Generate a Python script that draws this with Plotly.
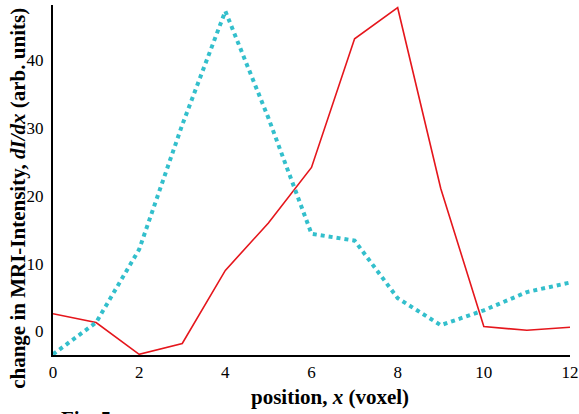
import plotly.graph_objects as go

positions = list(range(13))
red_values = [2.6, 1.3, -3.4, -1.8, 9.0, 16.0, 24.2, 43.2, 47.8, 21.1, 0.7, 0.15, 0.6]
cyan_values = [-3.4, 1.3, 12.1, 30.5, 47.3, 31.5, 14.4, 13.4, 4.9, 0.9, 3.1, 5.8, 7.2]
x_ticks = [0, 2, 4, 6, 8, 10, 12]
y_ticks = [0, 10, 20, 30, 40]

font_family = "Liberation Serif"

fig = go.Figure()
fig.add_trace(go.Scatter(x=positions, y=red_values, mode="lines",
                         line=dict(color="#E5161C", width=1.6), showlegend=False))
fig.add_trace(go.Scatter(x=positions, y=cyan_values, mode="lines",
                         line=dict(color="#33BFCC", width=4, dash="dot"), showlegend=False))

fig.update_layout(
    width=579, height=414,
    margin=dict(l=53, r=9, t=5, b=59),
    paper_bgcolor="white", plot_bgcolor="white",
    font=dict(family=font_family, color="black", size=17),
    xaxis=dict(range=[0, 12], tickvals=x_ticks, showgrid=False, zeroline=False,
               showline=True, linecolor="black", linewidth=2, ticks="",
               automargin=False, ticklabelstandoff=1,
               tickfont=dict(size=17, family=font_family)),
    yaxis=dict(range=[-3.5, 48.2], tickvals=y_ticks, showgrid=False, zeroline=False,
               showline=True, linecolor="black", linewidth=2, ticks="",
               automargin=False, ticklabelstandoff=4,
               tickfont=dict(size=17, family=font_family)),
)

fig.add_annotation(text="<b>change in MRI-Intensity, <i>dI/dx</i> (arb. units)</b>",
                   xref="paper", yref="paper", x=-0.0677, y=0.449,
                   xanchor="center", yanchor="middle", textangle=-90,
                   showarrow=False, font=dict(size=21, family=font_family))
fig.add_annotation(text="<b>position, <i>x</i> (voxel)</b>",
                   xref="paper", yref="paper", x=0.535, y=-0.12,
                   xanchor="center", yanchor="middle",
                   showarrow=False, font=dict(size=21, family=font_family))
fig.add_annotation(text="<b>Fig. 5</b>", xref="paper", yref="paper",
                   x=0.012, y=-0.143, xanchor="left", yanchor="top",
                   showarrow=False, font=dict(size=21, family=font_family))

fig.write_html("out.html", config={"displayModeBar": False},
               post_script="document.body.style.margin='0';document.body.style.overflow='hidden';")
